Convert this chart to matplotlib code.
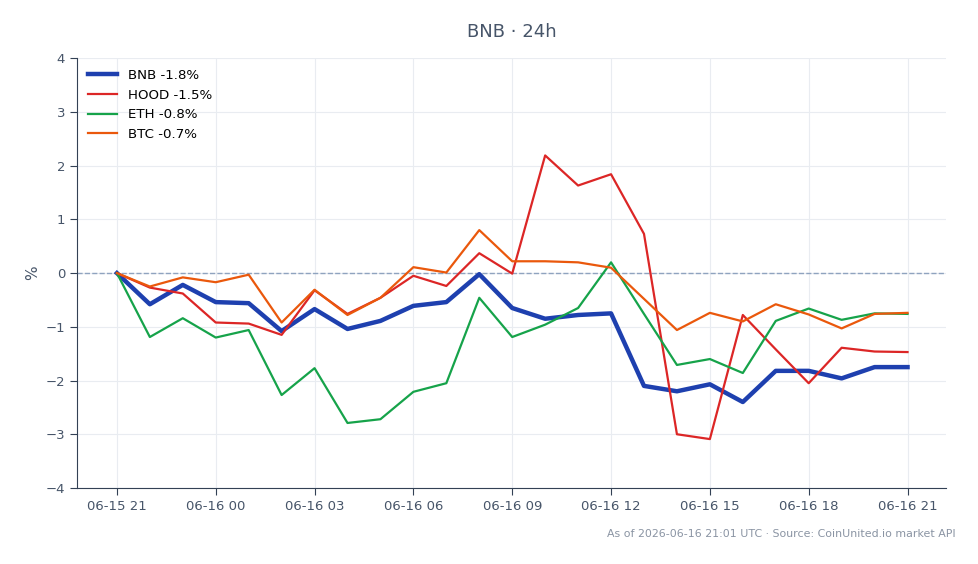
import numpy as np
import matplotlib.pyplot as plt

hours = list(range(25))
tick_pos = [0, 3, 6, 9, 12, 15, 18, 21, 24]
tick_labels = ["06-15 21", "06-16 00", "06-16 03", "06-16 06", "06-16 09",
               "06-16 12", "06-16 15", "06-16 18", "06-16 21"]

bnb = [0, -0.58, -0.22, -0.54, -0.56, -1.08, -0.67, -1.04, -0.89, -0.61, -0.54, -0.02,
       -0.65, -0.85, -0.78, -0.75, -2.10, -2.20, -2.07, -2.40, -1.82, -1.82, -1.96, -1.75, -1.75]
hood = [0, -0.27, -0.38, -0.92, -0.94, -1.15, -0.32, -0.76, -0.46, -0.05, -0.24, 0.37,
        -0.01, 2.19, 1.63, 1.84, 0.73, -3.00, -3.09, -0.78, -1.42, -2.05, -1.39, -1.46, -1.47]
eth = [0, -1.19, -0.84, -1.20, -1.06, -2.27, -1.77, -2.79, -2.72, -2.21, -2.05, -0.46,
       -1.19, -0.96, -0.65, 0.20, -0.76, -1.71, -1.60, -1.86, -0.89, -0.66, -0.87, -0.75, -0.76]
btc = [0, -0.25, -0.08, -0.17, -0.03, -0.92, -0.31, -0.78, -0.46, 0.11, 0.01, 0.80,
       0.22, 0.22, 0.20, 0.10, -0.48, -1.06, -0.74, -0.90, -0.58, -0.77, -1.03, -0.76, -0.74]

series = [
    ("BNB -1.8%", bnb, "#1e40af", 3.2),
    ("HOOD -1.5%", hood, "#dc2626", 1.6),
    ("ETH -0.8%", eth, "#16a34a", 1.6),
    ("BTC -0.7%", btc, "#ea580c", 1.6),
]

txt = "#475569"
fig = plt.figure(figsize=(9.79, 5.64), dpi=100)
ax = fig.add_axes([0.0787, 0.1348, 0.888, 0.762])

for name, vals, col, lw in series:
    ax.plot(hours, vals, color=col, lw=lw, label=name, zorder=3)

ax.axhline(0, color="#8fa3bf", lw=1, ls="--", zorder=2)

ax.set_xlim(-1.21, 25.18)
ax.set_ylim(-4, 4)
ax.set_xticks(tick_pos)
ax.set_xticklabels(tick_labels)
ax.set_yticks(range(-4, 5))
ax.tick_params(colors=txt, labelsize=9.5, length=5, color="#334155")
ax.grid(True, color="#e9ecf1", lw=0.8)
ax.set_axisbelow(True)
for s in ["top", "right"]:
    ax.spines[s].set_visible(False)
for s in ["left", "bottom"]:
    ax.spines[s].set_color("#334155")
ax.set_ylabel("%", color=txt, fontsize=11)

ax.legend(loc="upper left", frameon=False, fontsize=9.6, handlelength=2.2,
          borderaxespad=0.4, labelspacing=0.5)

fig.text(0.523, 0.943, "BNB · 24h", ha="center", va="center", fontsize=13, color=txt)
fig.text(0.976, 0.053, "As of 2026-06-16 21:01 UTC · Source: CoinUnited.io market API",
         ha="right", va="center", fontsize=7.9, color="#8a94a3")

fig.savefig("out.png", dpi=100)
